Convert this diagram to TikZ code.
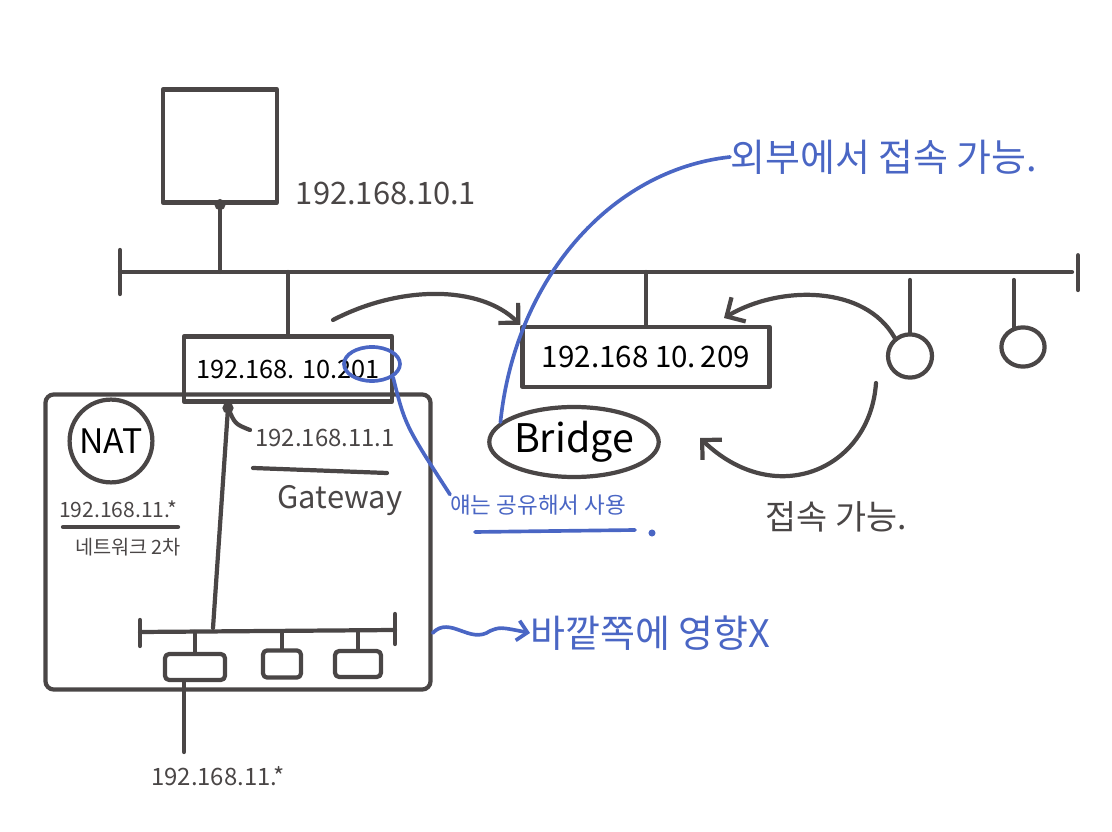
\documentclass[tikz,border=0pt]{standalone}
\usepackage{fontspec}
\setmainfont{Noto Sans CJK KR}
\usepackage{tikz}
\usetikzlibrary{shapes.geometric, arrows.meta, positioning}
\definecolor{penink}{HTML}{4A4646}
\definecolor{penblue}{HTML}{4A66C4}
\newcommand{\fsz}[1]{\fontsize{#1}{#1}\selectfont}

\begin{document}
\begin{tikzpicture}[
    x=0.025cm, y=-0.025cm,
    line cap=round, line join=round,
    ink/.style={draw=penink, line width=3pt},
    blueink/.style={draw=penblue, line width=2.6pt},
    device/.style={draw=penink, line width=3pt, inner sep=0pt},
    note/.style={text=penink, inner sep=0pt},
    bluenote/.style={text=penblue, inner sep=0pt},
    arrow/.style={ink, -{Straight Barb[length=3.5mm, width=7mm]}},
    bluearrow/.style={blueink, -{Straight Barb[length=2.5mm, width=5mm]}}
]
\useasboundingbox (0,0) rectangle (1112,832);

% outer network
\coordinate (busL) at (120,272);
\coordinate (busR) at (1072,272);
\node (router) [device, minimum width=2.85cm, minimum height=2.825cm] at (220,146) {};
\node (routerip) [note, font=\fsz{22}] at (386,193) {192.168.10.1};
\node (vm201) [device, minimum width=5.2cm, minimum height=1.625cm, font=\fsz{18}] at (288,369) {192.168. 10.201};
\node (vm209) [device, minimum width=6.175cm, minimum height=1.5cm, font=\fsz{21}] at (646,357) {192.168 10.\,209};
\node (dev1) [device, ellipse, minimum width=1.1cm, minimum height=1.08cm] at (910,356) {};
\node (dev2) [device, ellipse, minimum width=1.08cm, minimum height=0.98cm] at (1023,347) {};

\draw[ink] (busL) -- (busR);
\draw[ink] ([yshift=0.55cm]busL) -- ([yshift=-0.55cm]busL);
\draw[ink] ([xshift=0.15cm, yshift=0.42cm]busR) -- ([xshift=0.15cm, yshift=-0.45cm]busR);
\draw[ink] (router.south) -- (router.south |- busL);
\fill[penink] (router.south) circle (4pt);
\draw[ink] (vm201.north) -- (vm201.north |- busL);
\draw[ink] (vm209.north) -- (vm209.north |- busL);
\draw[ink] (dev1.north) -- ([yshift=-0.2cm]dev1.north |- busL);
\draw[ink] (dev2.115) -- ([yshift=-0.2cm]dev2.115 |- busL);

% NAT side
\node (natbox) [device, rounded corners=6pt, minimum width=9.625cm, minimum height=7.375cm] at (238,542) {};
\node (nat) [device, circle, minimum size=2.07cm, font=\fsz{24}] at (111,441) {NAT};
\node (natip) [note, font=\fsz{15}] at (118,509) {192.168.11.*};
\node (natname) [note, font=\fsz{14}] at (128,547) {네트워크 2차};
\draw[ink] (63,527) -- (178,527);
\node (gwip) [note, font=\fsz{17}] at (325,438) {192.168.11.1};
\draw[ink] (253,468) -- (387,473);
\node (gwname) [note, font=\fsz{22}] at (340,501) {Gateway};

\coordinate (gw) at (228,408);
\coordinate (gwlan) at (213,628);
\coordinate (lanL) at (140,632);
\coordinate (lanR) at (395,630);
\fill[penink] (gw) circle (4pt);
\draw[ink] (gw) -- (gwlan);
\draw[ink] (gw) .. controls (235,424) .. (250,430);
\draw[ink] (lanL) -- (lanR);
\draw[ink] ([yshift=0.3cm]lanL) -- ([yshift=-0.35cm]lanL);
\draw[ink] ([yshift=0.4cm]lanR) -- ([yshift=-0.35cm]lanR);

\node (pc1) [device, rounded corners=3pt, minimum width=1.5cm, minimum height=0.65cm] at (195,667) {};
\node (pc2) [device, rounded corners=3pt, minimum width=0.95cm, minimum height=0.68cm] at (282,664) {};
\node (pc3) [device, rounded corners=3pt, minimum width=1.15cm, minimum height=0.65cm] at (358,664) {};
\draw[ink] (pc1.north) -- (pc1.north |- lanL);
\draw[ink] (pc2.north) -- (pc2.north |- lanL);
\draw[ink] (pc3.north) -- (pc3.north |- lanL);
\coordinate (pc1tail) at (184,752);
\draw[ink] (pc1tail |- pc1.south) -- (pc1tail);
\node (pc1ip) [note, font=\fsz{17}] at (218,776) {192.168.11.*};

% bridge side
\node (bridge) [device, ellipse, minimum width=3.8cm, minimum height=1.75cm, font=\fsz{28}] at (574,442) {Bridge};
\node (reach) [note, font=\fsz{24}] at (836,517) {접속 가능.};
\coordinate (a1) at (333,320);
\coordinate (a3) at (876,383);
\coordinate (tip209) at (724,318);
\coordinate (tipbr) at (700,438);
\draw[arrow] (a1) .. controls (400,285) and (480,285) .. (vm209.north west);
\draw[arrow] (dev1.130) .. controls (865,285) and (780,285) .. (tip209);
\draw[arrow] (a3) .. controls (870,470) and (775,510) .. (tipbr);

% blue notes
\node (outside) [bluenote, anchor=west, font=\fsz{27}] at (730,157) {외부에서 접속 가능.};
\draw[blueink] (bridge.165) .. controls (515,280) and (610,170) .. (outside.west);

\node (c201) [draw=penblue, line width=2.6pt, ellipse, minimum width=1.4cm, minimum height=0.85cm] at (372,364) {};
\node (share) [bluenote, anchor=west, font=\fsz{16}] at (450,505) {얘는 공유해서 사용};
\draw[blueink] (c201.south east) .. controls (405,425) .. (share.north west);
\draw[blueink] (475,532) -- (635,530);
\fill[penblue] (652,533) circle (2.5pt);

\node (noeffect) [bluenote, anchor=west, font=\fsz{27}] at (530,633) {바깥쪽에 영향X};
\draw[bluearrow] (natbox.east |- noeffect.west) .. controls (450,615) and (470,645) .. (490,631) .. controls (500,627) .. (noeffect.west);
\end{tikzpicture}
\end{document}
